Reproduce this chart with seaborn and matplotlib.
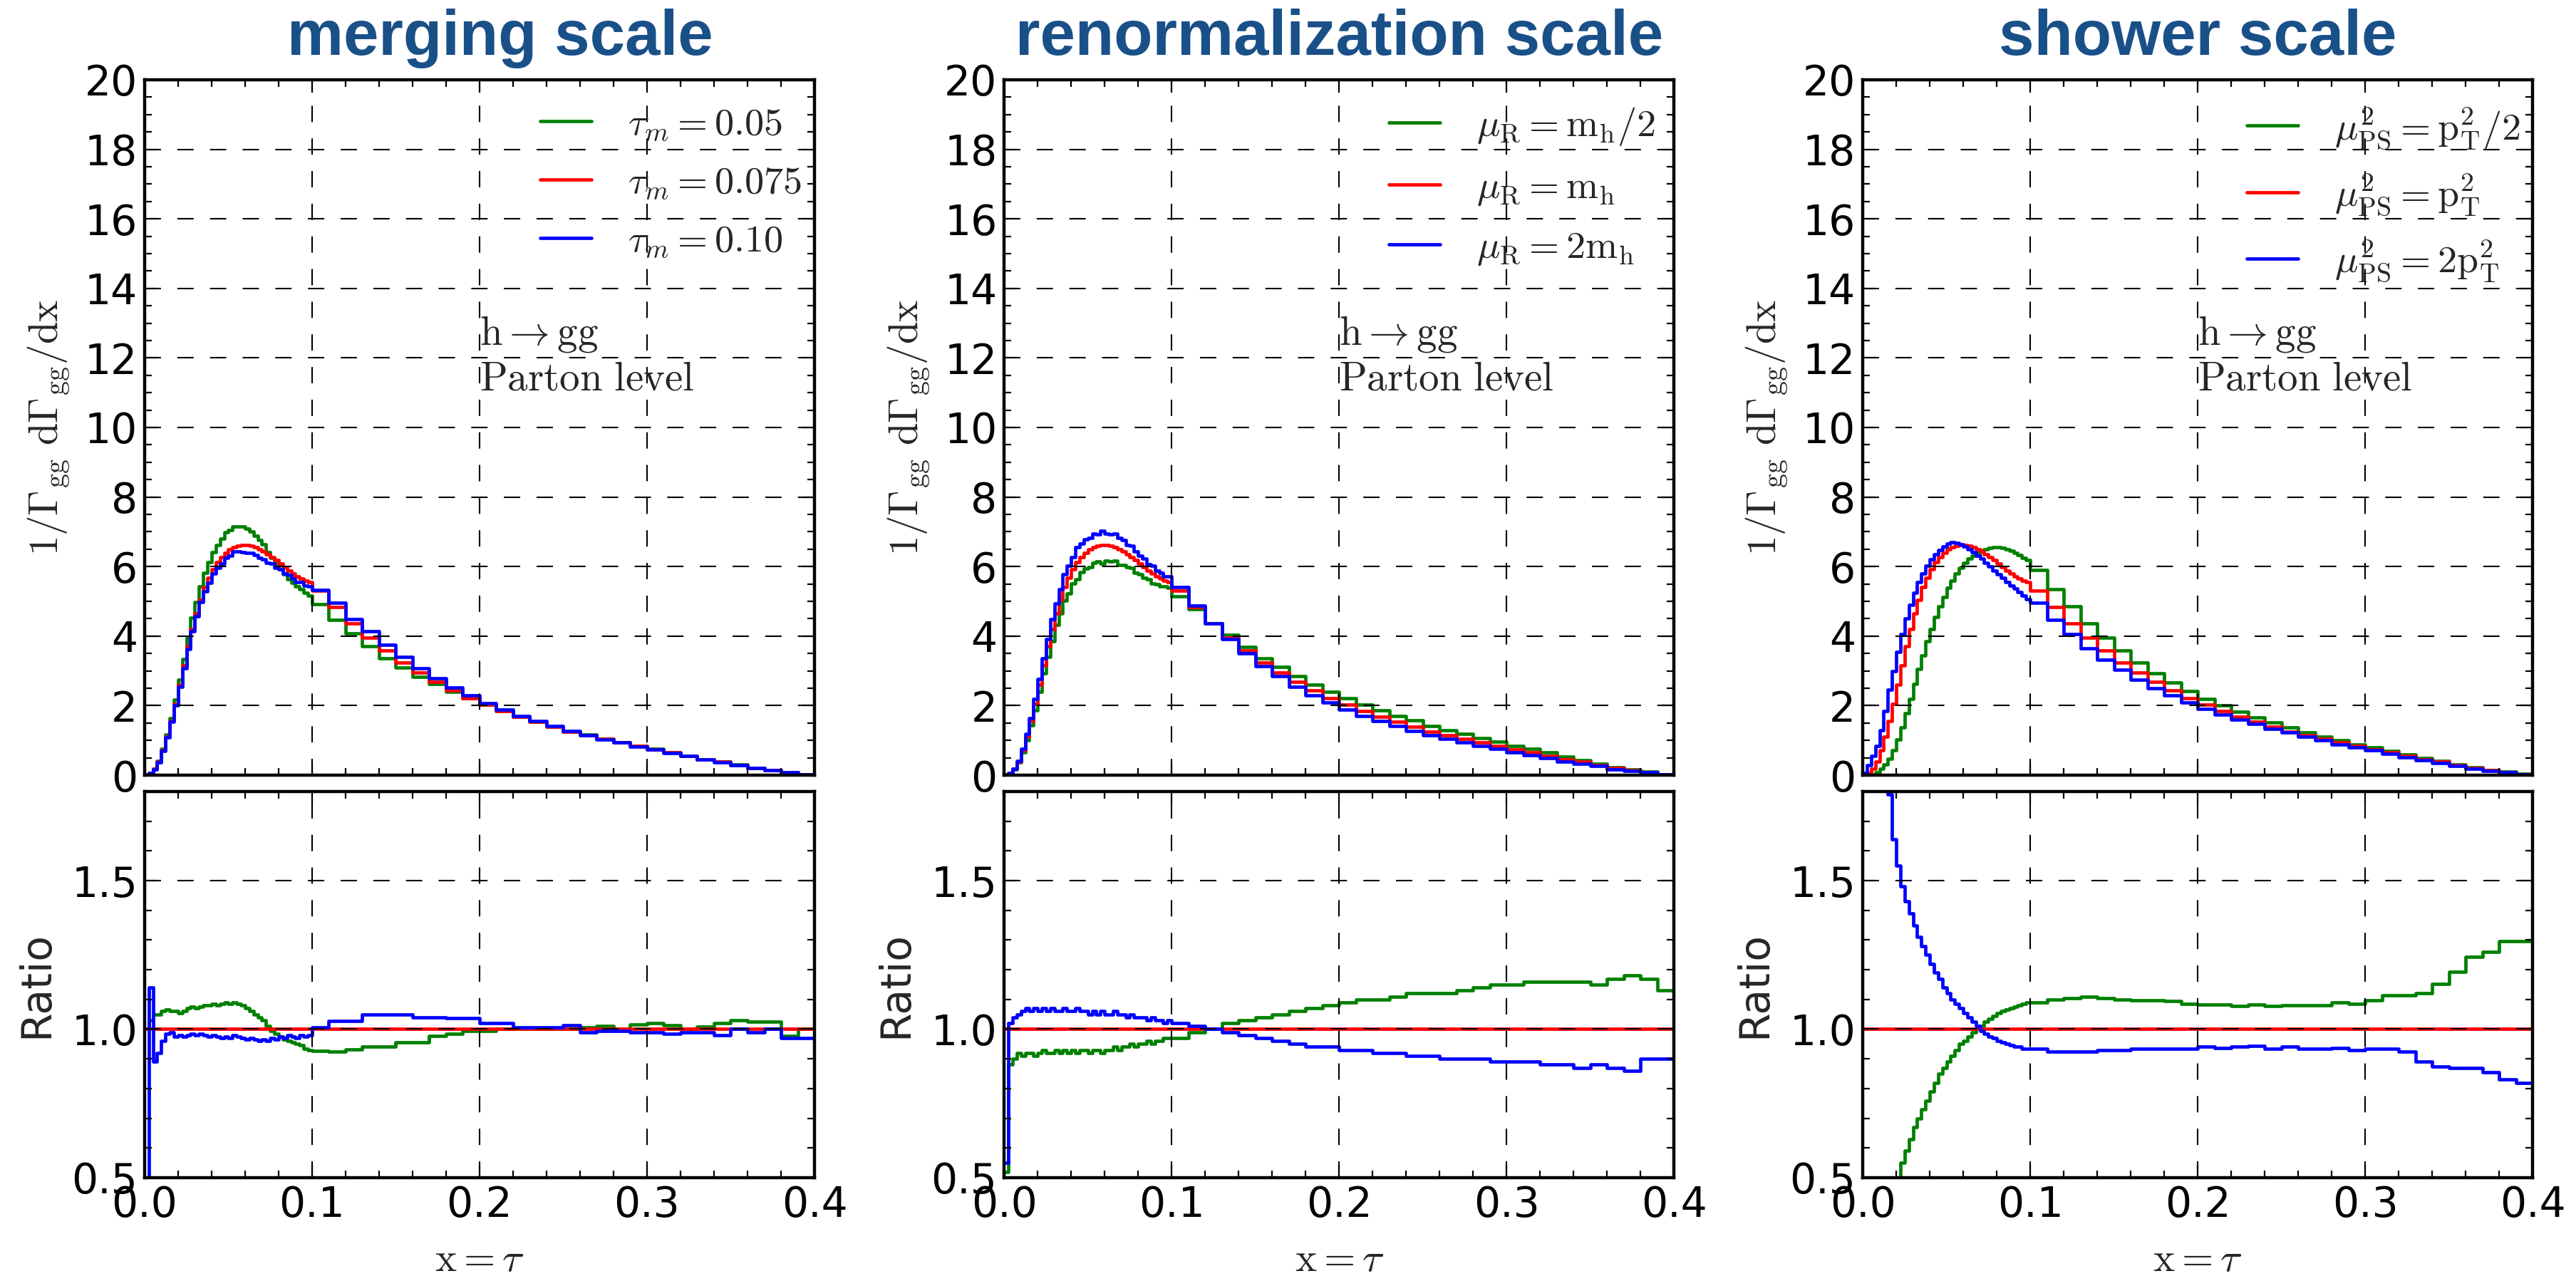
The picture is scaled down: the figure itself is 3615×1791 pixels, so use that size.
import numpy as np
import pandas as pd
import matplotlib
matplotlib.use("Agg")
import matplotlib.pyplot as plt
import seaborn as sns
from matplotlib.lines import Line2D
from matplotlib.ticker import MultipleLocator, FormatStrFormatter

sns.set_theme(style="white")
plt.rcParams["font.family"] = ["DejaVu Sans"]
plt.rcParams["mathtext.fontset"] = "cm"
plt.rcParams["axes.unicode_minus"] = False

# ---------------- binning ----------------
fine_edges = np.linspace(0.0, 0.1, 41)      # 0.0025 wide bins below 0.1
coarse_edges = np.linspace(0.11, 0.40, 30)  # 0.01 wide bins above 0.1
edges = np.concatenate([fine_edges, coarse_edges])

# ---------------- data ----------------
central = [0.02, 0.06, 0.18, 0.40, 0.72, 1.10, 1.55, 2.05, 2.60, 3.15, 3.70, 4.20, 4.65, 5.05, 5.40, 5.68, 5.92, 6.12, 6.28, 6.40,
           6.50, 6.56, 6.60, 6.62, 6.62, 6.60, 6.56, 6.50, 6.44, 6.36, 6.28, 6.18, 6.08, 5.98, 5.88, 5.80, 5.72, 5.66, 5.60, 5.55,
           5.30, 4.83, 4.37, 3.95, 3.58, 3.24, 2.96, 2.68, 2.44, 2.22, 2.03, 1.84, 1.69, 1.54, 1.40, 1.26, 1.15, 1.04, 0.94, 0.84,
           0.74, 0.65, 0.56, 0.46, 0.38, 0.29, 0.20, 0.14, 0.09, 0.03]

# merging scale
merge_green = [0.02, 0.06, 0.19, 0.42, 0.76, 1.17, 1.64, 2.17, 2.74, 3.34, 3.96, 4.52, 4.98, 5.43, 5.83, 6.13, 6.42, 6.61, 6.81, 6.98,
               7.05, 7.15, 7.16, 7.15, 7.08, 7.00, 6.89, 6.76, 6.63, 6.42, 6.25, 6.09, 5.93, 5.77, 5.64, 5.54, 5.43, 5.35, 5.24, 5.16,
               4.91, 4.46, 4.07, 3.71, 3.37, 3.10, 2.83, 2.62, 2.40, 2.21, 2.02, 1.84, 1.69, 1.54, 1.40, 1.26, 1.16, 1.05, 0.94, 0.85,
               0.75, 0.66, 0.56, 0.46, 0.39, 0.30, 0.21, 0.14, 0.09, 0.03]
merge_blue = [0.01, 0.07, 0.16, 0.37, 0.69, 1.08, 1.53, 2.00, 2.55, 3.07, 3.63, 4.14, 4.56, 4.97, 5.29, 5.54, 5.80, 5.97, 6.09, 6.24,
              6.31, 6.43, 6.44, 6.42, 6.39, 6.40, 6.33, 6.24, 6.21, 6.11, 6.09, 5.96, 5.93, 5.80, 5.76, 5.66, 5.55, 5.55, 5.46, 5.44,
              5.33, 4.96, 4.49, 4.14, 3.75, 3.40, 3.08, 2.79, 2.53, 2.30, 2.07, 1.88, 1.70, 1.55, 1.41, 1.28, 1.14, 1.03, 0.94, 0.83,
              0.73, 0.64, 0.55, 0.45, 0.37, 0.29, 0.20, 0.14, 0.09, 0.03]
merge_ratio_green = [1.0, 1.03, 1.05, 1.05, 1.06, 1.065, 1.06, 1.06, 1.055, 1.06, 1.07, 1.075, 1.07, 1.075, 1.08, 1.08, 1.085, 1.08, 1.085, 1.09,
                     1.085, 1.09, 1.085, 1.08, 1.07, 1.06, 1.05, 1.04, 1.03, 1.01, 0.995, 0.985, 0.975, 0.965, 0.96, 0.955, 0.95, 0.945, 0.935, 0.93,
                     0.926, 0.924, 0.931, 0.94, 0.94, 0.956, 0.956, 0.978, 0.984, 0.995, 0.995, 1.0, 1.0, 1.0, 1.0, 1.0, 1.005, 1.01, 1.0, 1.015,
                     1.02, 1.013, 1.0, 1.008, 1.02, 1.03, 1.026, 1.026, 0.978, 1.0]
merge_ratio_blue = [0.45, 1.14, 0.89, 0.92, 0.96, 0.985, 0.99, 0.975, 0.98, 0.975, 0.98, 0.985, 0.98, 0.985, 0.98, 0.975, 0.98, 0.975, 0.97, 0.975,
                    0.97, 0.98, 0.975, 0.97, 0.965, 0.97, 0.965, 0.96, 0.965, 0.96, 0.97, 0.965, 0.975, 0.97, 0.98, 0.975, 0.97, 0.98, 0.975, 0.98,
                    1.005, 1.027, 1.027, 1.048, 1.048, 1.048, 1.04, 1.04, 1.037, 1.037, 1.02, 1.02, 1.005, 1.005, 1.005, 1.013, 0.99, 0.995, 0.995, 0.99,
                    0.99, 0.985, 0.988, 0.988, 0.98, 1.0, 0.99, 1.0, 0.97, 0.97]

# renormalization scale
renorm_green = [0.01, 0.05, 0.16, 0.37, 0.66, 1.01, 1.43, 1.87, 2.39, 2.93, 3.40, 3.86, 4.32, 4.65, 5.02, 5.23, 5.51, 5.63, 5.84, 5.95,
                5.98, 6.10, 6.14, 6.09, 6.16, 6.14, 6.17, 6.05, 6.05, 5.98, 5.97, 5.81, 5.78, 5.68, 5.64, 5.51, 5.49, 5.43, 5.43, 5.38,
                5.14, 4.78, 4.37, 4.03, 3.69, 3.37, 3.11, 2.84, 2.61, 2.40, 2.21, 2.02, 1.86, 1.71, 1.57, 1.41, 1.29, 1.18, 1.07, 0.97,
                0.85, 0.75, 0.65, 0.53, 0.44, 0.33, 0.23, 0.17, 0.11, 0.03]
renorm_blue = [0.01, 0.06, 0.19, 0.42, 0.76, 1.18, 1.64, 2.19, 2.76, 3.37, 3.92, 4.49, 4.93, 5.35, 5.78, 6.02, 6.28, 6.55, 6.66, 6.78,
               6.83, 6.95, 6.93, 7.02, 6.95, 6.93, 6.95, 6.83, 6.76, 6.61, 6.59, 6.43, 6.32, 6.22, 6.06, 6.03, 5.89, 5.83, 5.71, 5.72,
               5.41, 4.88, 4.37, 3.91, 3.51, 3.14, 2.84, 2.55, 2.29, 2.09, 1.89, 1.71, 1.55, 1.42, 1.27, 1.15, 1.04, 0.94, 0.85, 0.75,
               0.66, 0.58, 0.49, 0.40, 0.33, 0.26, 0.17, 0.12, 0.08, 0.03]
renorm_ratio_green = [0.52, 0.88, 0.90, 0.92, 0.91, 0.92, 0.92, 0.91, 0.92, 0.93, 0.92, 0.92, 0.93, 0.92, 0.93, 0.92, 0.93, 0.92, 0.93, 0.93,
                      0.92, 0.93, 0.93, 0.92, 0.93, 0.93, 0.94, 0.93, 0.94, 0.94, 0.95, 0.94, 0.95, 0.95, 0.96, 0.95, 0.96, 0.96, 0.97, 0.97,
                      0.97, 0.99, 1.0, 1.02, 1.03, 1.04, 1.05, 1.06, 1.07, 1.08, 1.09, 1.10, 1.10, 1.11, 1.12, 1.12, 1.12, 1.13, 1.14, 1.15,
                      1.15, 1.16, 1.16, 1.16, 1.16, 1.15, 1.17, 1.18, 1.17, 1.13]
renorm_ratio_blue = [0.55, 1.02, 1.04, 1.05, 1.06, 1.07, 1.06, 1.07, 1.06, 1.07, 1.06, 1.07, 1.06, 1.06, 1.07, 1.06, 1.06, 1.07, 1.06, 1.06,
                     1.05, 1.06, 1.05, 1.06, 1.05, 1.05, 1.06, 1.05, 1.05, 1.04, 1.05, 1.04, 1.04, 1.04, 1.03, 1.04, 1.03, 1.03, 1.02, 1.03,
                     1.02, 1.01, 1.0, 0.99, 0.98, 0.97, 0.96, 0.95, 0.94, 0.94, 0.93, 0.93, 0.92, 0.92, 0.91, 0.91, 0.90, 0.90, 0.90, 0.89,
                     0.89, 0.89, 0.88, 0.88, 0.87, 0.88, 0.87, 0.86, 0.90, 0.90]

# shower scale
shower_green = [0.0, 0.01, 0.03, 0.08, 0.18, 0.30, 0.48, 0.72, 1.02, 1.38, 1.78, 2.20, 2.62, 3.05, 3.45, 3.85, 4.20, 4.55, 4.85, 5.12,
                5.38, 5.60, 5.80, 5.97, 6.10, 6.22, 6.32, 6.40, 6.46, 6.50, 6.53, 6.55, 6.55, 6.53, 6.50, 6.46, 6.40, 6.34, 6.26, 6.18,
                5.90, 5.35, 4.85, 4.37, 3.96, 3.58, 3.23, 2.93, 2.66, 2.41, 2.20, 2.01, 1.82, 1.67, 1.52, 1.38, 1.24, 1.11, 1.00, 0.89,
                0.80, 0.70, 0.59, 0.50, 0.41, 0.31, 0.23, 0.15, 0.10, 0.05]
shower_blue = [0.06, 0.28, 0.55, 0.85, 1.30, 1.85, 2.45, 3.00, 3.55, 4.05, 4.50, 4.90, 5.25, 5.55, 5.80, 6.02, 6.20, 6.35, 6.48, 6.58,
               6.65, 6.70, 6.68, 6.64, 6.58, 6.50, 6.42, 6.32, 6.22, 6.10, 6.00, 5.88, 5.78, 5.67, 5.56, 5.46, 5.36, 5.26, 5.16, 5.06,
               4.96, 4.47, 4.06, 3.65, 3.31, 3.04, 2.75, 2.51, 2.29, 2.10, 1.91, 1.74, 1.60, 1.47, 1.33, 1.23, 1.11, 1.00, 0.89, 0.80,
               0.72, 0.61, 0.51, 0.43, 0.34, 0.27, 0.19, 0.12, 0.08, 0.03]
shower_ratio_green = [0.10, 0.15, 0.20, 0.25, 0.30, 0.34, 0.38, 0.45, 0.50, 0.55, 0.59, 0.63, 0.67, 0.70, 0.73, 0.76, 0.79, 0.82, 0.85, 0.87,
                      0.89, 0.91, 0.93, 0.95, 0.96, 0.975, 0.99, 1.0, 1.01, 1.025, 1.035, 1.045, 1.055, 1.06, 1.065, 1.07, 1.075, 1.08, 1.085, 1.09,
                      1.09, 1.10, 1.105, 1.11, 1.105, 1.10, 1.098, 1.097, 1.095, 1.085, 1.083, 1.083, 1.078, 1.083, 1.079, 1.08, 1.08, 1.08, 1.09, 1.085,
                      1.098, 1.115, 1.115, 1.122, 1.153, 1.194, 1.243, 1.26, 1.295, 1.295]
shower_ratio_blue = [3.0, 2.8, 2.5, 2.2, 2.0, 1.9, 1.79, 1.64, 1.55, 1.48, 1.43, 1.39, 1.35, 1.31, 1.28, 1.25, 1.22, 1.19, 1.17, 1.14,
                     1.12, 1.10, 1.085, 1.07, 1.055, 1.04, 1.025, 1.01, 0.995, 0.985, 0.975, 0.97, 0.96, 0.955, 0.95, 0.945, 0.94, 0.94, 0.935, 0.935,
                     0.935, 0.925, 0.925, 0.925, 0.93, 0.93, 0.933, 0.933, 0.935, 0.935, 0.94, 0.937, 0.94, 0.944, 0.933, 0.94, 0.935, 0.935, 0.937, 0.93,
                     0.935, 0.933, 0.925, 0.89, 0.875, 0.87, 0.87, 0.855, 0.83, 0.82]

titles = ["merging scale", "renormalization scale", "shower scale"]
legend_labels = [
    [r"$\tau_m=0.05$", r"$\tau_m=0.075$", r"$\tau_m=0.10$"],
    [r"$\mu_\mathrm{R}=\mathrm{m_h}/2$", r"$\mu_\mathrm{R}=\mathrm{m_h}$", r"$\mu_\mathrm{R}=2\mathrm{m_h}$"],
    [r"$\mu_\mathrm{PS}^2=\mathrm{p_T^2}/2$", r"$\mu_\mathrm{PS}^2=\mathrm{p_T^2}$", r"$\mu_\mathrm{PS}^2=2\mathrm{p_T^2}$"],
]
top_series = [
    (merge_green, central, merge_blue),
    (renorm_green, central, renorm_blue),
    (shower_green, central, shower_blue),
]
ratio_series = [
    (merge_ratio_green, merge_ratio_blue),
    (renorm_ratio_green, renorm_ratio_blue),
    (shower_ratio_green, shower_ratio_blue),
]
colors = ["#008000", "#ff0000", "#0000ff"]
names = ["low", "central", "high"]
palette = dict(zip(names, colors))
title_x = [0.531, 0.5, 0.5]
legend_x = [0.59, 0.574, 0.573]
LW = 3.4


def step_frame(series_list):
    frames = []
    for name, vals in zip(names, series_list):
        v = np.asarray(vals, dtype=float)
        frames.append(pd.DataFrame({"x": edges, "y": np.append(v, v[-1]), "series": name}))
    return pd.concat(frames, ignore_index=True)


def style_axis(ax, ymajor, yminor):
    ax.xaxis.set_major_locator(MultipleLocator(0.1))
    ax.xaxis.set_minor_locator(MultipleLocator(0.02))
    ax.yaxis.set_major_locator(MultipleLocator(ymajor))
    ax.yaxis.set_minor_locator(MultipleLocator(yminor))
    ax.tick_params(which="both", direction="in", top=True, right=True, bottom=True, left=True,
                   colors="black", labelsize=42, pad=7)
    ax.tick_params(which="major", length=13, width=1.6)
    ax.tick_params(which="minor", length=7, width=1.6)
    for sp in ax.spines.values():
        sp.set_linewidth(3.2)
        sp.set_color("black")
        sp.set_visible(True)
    ax.set_axisbelow(False)
    ax.grid(True, which="major", color="black", linestyle=(0, (11, 11)), linewidth=1.5)
    ax.set_facecolor("white")


fig = plt.figure(figsize=(36.16, 17.91), dpi=100)
fig.patch.set_facecolor("white")
lefts = [0.0561, 0.3897, 0.7229]
w = 0.26

for i in range(3):
    ax = fig.add_axes([lefts[i], 0.3925, w, 0.545])
    axr = fig.add_axes([lefts[i], 0.0771, w, 0.3026])

    df = step_frame(top_series[i])
    sns.lineplot(data=df, x="x", y="y", hue="series", hue_order=names, palette=palette,
                 drawstyle="steps-post", estimator=None, sort=False, legend=False,
                 linewidth=LW, ax=ax)
    ax.set_xlim(0, 0.4)
    ax.set_ylim(0, 20)
    style_axis(ax, 2, 0.5)
    ax.tick_params(labelbottom=False)
    ax.set_xlabel("")
    ax.set_ylabel(r"$\mathrm{1/\Gamma_{gg}\ d\Gamma_{gg}/dx}$", fontsize=41)
    ax.yaxis.set_label_coords(-0.108, 0.5)

    ax.text(title_x[i], 1.036, titles[i], transform=ax.transAxes, ha="center", va="baseline",
            fontsize=64, fontweight="bold", color="#1a5088", family="Liberation Sans")
    ax.text(0.2, 12.38, r"$\mathrm{h\rightarrow gg}$", fontsize=41, va="baseline", ha="left")
    ax.text(0.2, 11.08, r"$\mathrm{Parton\ level}$", fontsize=41, va="baseline", ha="left")

    handles = [Line2D([0], [0], color=c, lw=LW) for c in colors]
    ax.legend(handles, legend_labels[i], loc="upper left", bbox_to_anchor=(legend_x[i], 0.963),
              frameon=False, fontsize=39, handlelength=1.33, handletextpad=0.95,
              labelspacing=0.55, borderaxespad=0, borderpad=0)

    rg, rb = ratio_series[i]
    cen = np.asarray(central, dtype=float)
    df_r = step_frame((rg, cen / cen, rb))
    sns.lineplot(data=df_r, x="x", y="y", hue="series", hue_order=names, palette=palette,
                 drawstyle="steps-post", estimator=None, sort=False, legend=False,
                 linewidth=LW, ax=axr)
    axr.set_xlim(0, 0.4)
    axr.set_ylim(0.5, 1.8)
    style_axis(axr, 0.5, 0.1)
    axr.xaxis.set_major_formatter(FormatStrFormatter("%.1f"))
    axr.yaxis.set_major_formatter(FormatStrFormatter("%.1f"))
    axr.set_ylabel("Ratio", fontsize=42)
    axr.yaxis.set_label_coords(-0.132, 0.5)
    axr.set_xlabel(r"$\mathrm{x=\tau}$", fontsize=41)
    axr.xaxis.set_label_coords(0.5, -0.163)

fig.savefig("out.png", dpi=100, facecolor="white")
